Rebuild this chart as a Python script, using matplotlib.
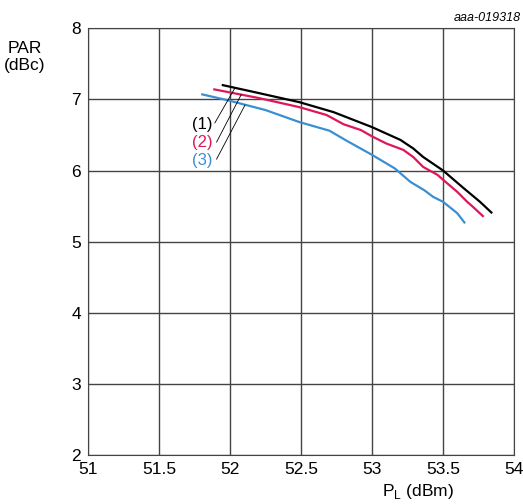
import matplotlib.pyplot as plt
import numpy as np

plt.rcParams['font.family'] = ['Liberation Sans', 'DejaVu Sans']

# curve (1)
x1 = [51.95, 52.2, 52.49, 52.73, 53.0, 53.2, 53.29, 53.36, 53.5, 53.64, 53.76, 53.84]
y1 = [7.20, 7.09, 6.96, 6.82, 6.61, 6.43, 6.31, 6.19, 6.00, 5.76, 5.56, 5.41]
# curve (2)
x2 = [51.89, 52.2, 52.49, 52.68, 52.8, 52.92, 53.0, 53.1, 53.22, 53.29, 53.36, 53.46,
      53.5, 53.6, 53.67, 53.71, 53.78]
y2 = [7.14, 7.02, 6.89, 6.78, 6.65, 6.57, 6.48, 6.38, 6.29, 6.19, 6.05, 5.94,
      5.87, 5.70, 5.56, 5.49, 5.36]
# curve (3)
x3 = [51.805, 51.98, 52.25, 52.49, 52.70, 52.82, 53.0, 53.16, 53.27, 53.37, 53.43,
      53.5, 53.6, 53.65]
y3 = [7.07, 6.99, 6.85, 6.68, 6.56, 6.42, 6.22, 6.03, 5.84, 5.72, 5.63,
      5.56, 5.40, 5.27]

labels = ['(1)', '(2)', '(3)']
colors = ['black', '#e0165a', '#3a8fd4']
label_y = [6.64, 6.40, 6.14]
leader_start = [(51.894, 6.67), (51.906, 6.40), (51.906, 6.16)]
leader_end = [(52.035, 7.16), (52.08, 7.07), (52.106, 6.92)]

fig = plt.figure(figsize=(5.23, 5.04), dpi=100)
ax = fig.add_axes([0.168, 0.097, 0.815, 0.847])

for xs, ys, c in zip([x1, x2, x3], [y1, y2, y3], colors):
    ax.plot(xs, ys, color=c, lw=1.6)

for lab, c, ly, s, e in zip(labels, colors, label_y, leader_start, leader_end):
    ax.text(51.88, ly, lab, color=c, fontsize=12, ha='right', va='center')
    ax.plot([s[0], e[0]], [s[1], e[1]], color='black', lw=0.6)

ax.set_xlim(51, 54)
ax.set_ylim(2, 8)
ax.set_xticks(np.arange(51, 54.01, 0.5))
ax.set_xticklabels(['51', '51.5', '52', '52.5', '53', '53.5', '54'])
ax.set_yticks(range(2, 9))
ax.grid(color='#444444', lw=1.0)
for sp in ax.spines.values():
    sp.set_color('#444444')
ax.tick_params(length=0, labelsize=12.5, pad=5)

fig.text(0.048, 0.887, 'PAR\n(dBc)', fontsize=12.5, ha='center', va='center', linespacing=1.15)
fig.text(0.80, 0.024, r'P$_\mathregular{L}$ (dBm)', fontsize=12.5, ha='center', va='center')
fig.text(0.996, 0.964, 'aaa-019318', fontsize=9, style='italic', ha='right', va='center')

plt.savefig('out.png', dpi=100)
